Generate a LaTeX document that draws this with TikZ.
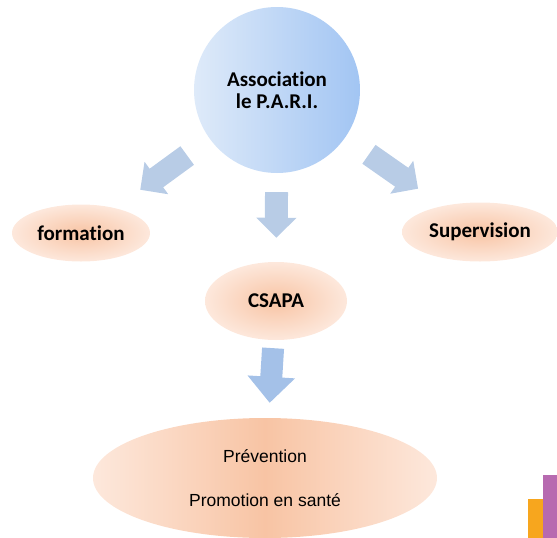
\documentclass[tikz,border=0pt]{standalone}
\usepackage{fontspec}
\newfontfamily\carlito[Ligatures=NoCommon]{Carlito}
\newfontfamily\liberation{Liberation Sans}
\usetikzlibrary{arrows.meta,shapes.geometric}
\definecolor{bluelight}{RGB}{222,234,249}
\definecolor{bluedark}{RGB}{162,197,243}
\definecolor{peachin}{RGB}{248,196,164}
\definecolor{peachout}{RGB}{253,232,220}
\definecolor{arrowblue}{RGB}{184,204,230}
\definecolor{arrowdeep}{RGB}{164,193,232}
\definecolor{barorange}{RGB}{247,166,30}
\definecolor{barpurple}{RGB}{183,106,176}
\begin{document}
\begin{tikzpicture}[x=1pt,y=-1pt,
    bubble/.style={ellipse,inner sep=0pt,inner color=peachin,outer color=peachout,
      font=\carlito\bfseries\fontsize{21}{24}\selectfont},
    fat/.style={line width=23pt,draw=arrowblue,-{Triangle[width=39pt,length=20pt]}}]
  \useasboundingbox (0,0) rectangle (557,538);
  % top circle
  \node[circle,minimum size=166pt,inner sep=0pt,left color=bluelight,right color=bluedark,
    align=center,font=\carlito\bfseries\fontsize{21}{22}\selectfont] (assoc) at (277,90) {Association\\le P.A.R.I.};
  \node[bubble,minimum width=138pt,minimum height=57pt] (formation) at (81,233) {formation};
  \node[bubble,minimum width=156pt,minimum height=59pt] (supervision) at (480,232) {Supervision};
  \node[bubble,minimum width=142pt,minimum height=78pt] (csapa) at (276,301) {CSAPA};
  % bottom ellipse
  \node[ellipse,inner sep=0pt,minimum width=344pt,minimum height=120pt,
    left color=peachout,right color=peachout,middle color=peachin,
    align=center,font=\liberation\fontsize{17.5}{44}\selectfont] (prevention) at (265,478) {Pr\'evention\\Promotion en sant\'e};
  % arrows
  \draw[fat,shorten <=28pt,shorten >=31pt] (assoc) -- (formation);
  \draw[fat,shorten <=29pt,shorten >=30pt] (assoc) -- (supervision);
  \draw[fat,shorten <=19pt,shorten >=24pt] (assoc) -- (csapa);
  \draw[fat,draw=arrowdeep,line width=22pt,-{Triangle[width=46pt,length=26pt]},
    shorten <=8pt,shorten >=15pt] (csapa) -- (prevention);
  % bars in the corner
  \fill[barorange] (528,499) rectangle (543,538);
  \fill[barpurple] (543,475) rectangle (557,538);
\end{tikzpicture}
\end{document}
